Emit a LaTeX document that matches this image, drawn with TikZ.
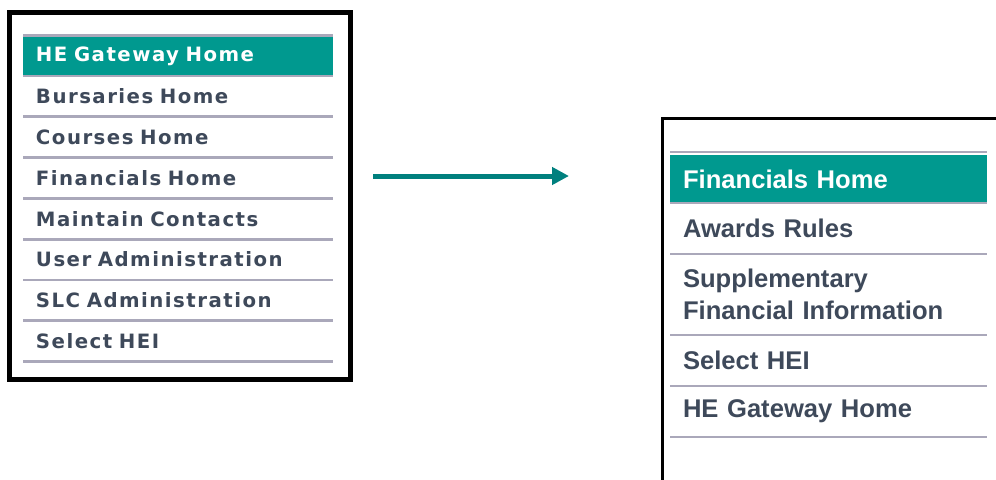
\documentclass[tikz,border=0pt]{standalone}
\usepackage{fontspec}
\usetikzlibrary{positioning,arrows.meta}
\newfontfamily\leftmenufont[LetterSpace=7.5]{DejaVu Sans}
\newfontfamily\rightmenufont{Liberation Sans}
\definecolor{gwteal}{RGB}{0,153,143}
\definecolor{arrowteal}{RGB}{0,128,126}
\definecolor{menutext}{RGB}{62,73,90}
\definecolor{sepgray}{RGB}{170,168,186}
\begin{document}
\begin{tikzpicture}[x=0.75pt, y=-0.75pt,
        litem/.style={rectangle, text width=213pt, inner xsep=9.75pt, inner ysep=0pt, outer sep=0pt, minimum height=30.6pt, align=left, text=menutext, font=\leftmenufont\bfseries\fontsize{14.8}{17}\selectfont},
        ritem/.style={rectangle, text width=218.25pt, inner xsep=9.75pt, inner ysep=0pt, outer sep=0pt, minimum height=38.25pt, align=left, text=menutext, font=\rightmenufont\bfseries\fontsize{19.2}{24}\selectfont},
        current/.style={fill=gwteal, text=white},
        sepline/.style={draw=sepgray, line width=2pt},
        frame/.style={draw=black, line cap=rect},
        goarrow/.style={draw=arrowteal, line width=3.75pt, -{Triangle[length=12.75pt, width=12.75pt]}}
    ]
    \useasboundingbox (0,0) rectangle (996,479);
    % left menu
    \draw[frame, line width=3.75pt] (9.5,12.5) rectangle (350.5,379.5);
    \node[litem, current, minimum height=29.25pt, anchor=north west] (gwhome) at (23,37) {HE Gateway Home};
    \node[litem, below=0pt of gwhome] (bursaries) {Bursaries Home};
    \node[litem, below=0pt of bursaries] (courses) {Courses Home};
    \node[litem, below=0pt of courses] (financials) {Financials Home};
    \node[litem, below=0pt of financials] (contacts) {Maintain Contacts};
    \node[litem, below=0pt of contacts] (useradmin) {User Administration};
    \node[litem, below=0pt of useradmin] (slcadmin) {SLC Administration};
    \node[litem, below=0pt of slcadmin] (selecthei) {Select HEI};
    \draw[sepline] ([yshift=1.1pt]gwhome.north west) -- ([yshift=1.1pt]gwhome.north east);
    \draw[sepline, line width=0.8pt] (gwhome.south west) -- (gwhome.south east);
    \foreach \n in {bursaries, courses, financials, contacts, useradmin, slcadmin, selecthei}
        \draw[sepline] (\n.south west) -- (\n.south east);
    % arrow
    \coordinate (arrowstart) at (373,176);
    \coordinate (arrowend) at (569,176);
    \draw[goarrow] (arrowstart) -- (arrowend);
    % right menu
    \draw[frame, line width=2.6pt] (662.7,485) |- (1000,118.7);
    \node[ritem, current, minimum height=36pt, anchor=north west] (finhome) at (670,155) {Financials Home};
    \node[ritem, below=0pt of finhome] (awards) {Awards Rules};
    \node[ritem, minimum height=60.75pt, below=0pt of awards] (suppinfo) {Supplementary\\Financial Information};
    \node[ritem, below=0pt of suppinfo] (rselecthei) {Select HEI};
    \node[ritem, below=0pt of rselecthei] (rgwhome) {HE Gateway Home};
    \draw[sepline] ([yshift=2.25pt]finhome.north west) -- ([yshift=2.25pt]finhome.north east);
    \draw[sepline, line width=0.8pt] (finhome.south west) -- (finhome.south east);
    \foreach \n in {awards, suppinfo, rselecthei, rgwhome}
        \draw[sepline] (\n.south west) -- (\n.south east);
\end{tikzpicture}
\end{document}
